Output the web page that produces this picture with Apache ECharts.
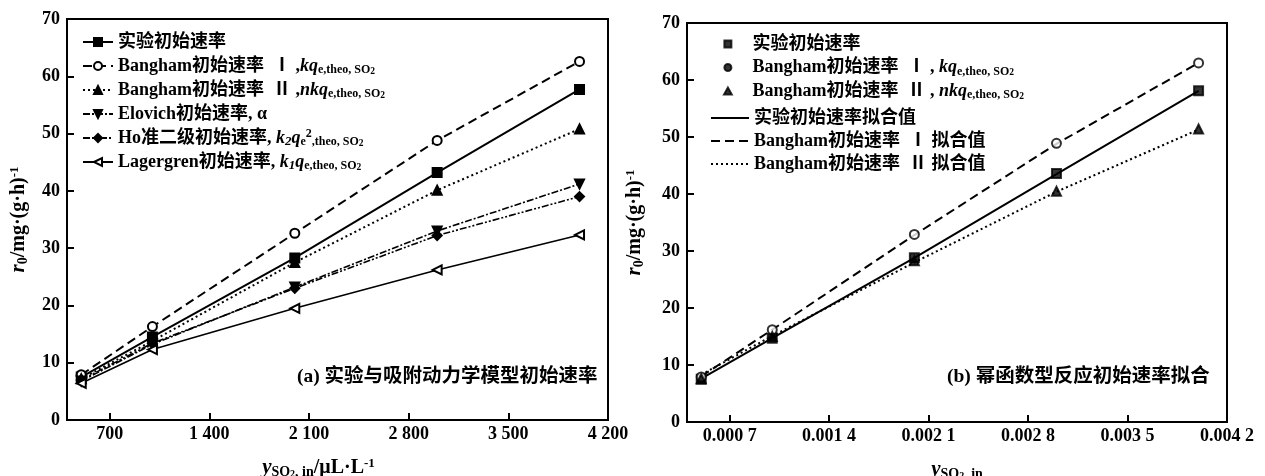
<!DOCTYPE html>
<html><head><meta charset="utf-8">
<script src="https://cdn.jsdelivr.net/npm/echarts@6/dist/echarts.min.js"></script>
<style>html,body{margin:0;padding:0;background:#fff}#c{width:1265px;height:476px}</style>
</head><body><div id="c"></div>
<script>
// ---------- data (a) ----------
const xA = [500, 1000, 2000, 3000, 4000];
const expA = [7.5, 14.5, 28.3, 43.2, 57.7];
const bangIA = [7.9, 16.3, 32.6, 48.8, 62.6];
const bangIIA = [7.2, 13.8, 27.5, 40.1, 50.8];
const elovA = [6.8, 13.2, 23.2, 33.0, 41.2];
const hoA = [7.0, 13.4, 23.0, 32.2, 39.0];
const lagA = [6.4, 12.3, 19.5, 26.2, 32.3];
const xTickValsA = [700, 1400, 2100, 2800, 3500, 4200];
const xTickLabelsA = ['700', '1 400', '2 100', '2 800', '3 500', '4 200'];
// ---------- data (b) ----------
const xB = [0.0005, 0.001, 0.002, 0.003, 0.004];
const expB = [7.5, 14.7, 28.8, 43.6, 58.1];
const bangIB = [7.9, 16.2, 32.9, 48.9, 63.0];
const bangIIB = [7.6, 15.0, 28.3, 40.5, 51.4];
const expFitB = [7.6, 14.7, 28.8, 43.5, 58.1];
const bangIFitB = [8.0, 16.2, 32.8, 48.8, 63.0];
const bangIIFitB = [8.3, 15.1, 28.0, 40.4, 51.3];
const xTickValsB = [0.0007, 0.0014, 0.0021, 0.0028, 0.0035, 0.0042];
const xTickLabelsB = ['0.000 7', '0.001 4', '0.002 1', '0.002 8', '0.003 5', '0.004 2'];

const namesA = ['实验初始速率', 'Bangham初始速率 Ⅰ ,kq', 'Bangham初始速率 Ⅱ ,nkq', 'Elovich初始速率, α', 'Ho准二级初始速率', 'Lagergren初始速率'];
const namesB = ['实验初始速率 ', 'Bangham初始速率 Ⅰ , kq', 'Bangham初始速率 Ⅱ , nkq', '实验初始速率拟合值', 'Bangham初始速率 Ⅰ 拟合值', 'Bangham初始速率 Ⅱ 拟合值'];

const F = "'Liberation Serif','Noto Sans CJK SC',serif";
const FS = 18;
const rich = {
  n: {fontSize: FS, fontWeight: 'bold', fontFamily: F, lineHeight: 20, color: '#000'},
  i: {fontSize: FS, fontWeight: 'bold', fontStyle: 'italic', fontFamily: F, lineHeight: 20, color: '#000'},
  sub: {fontSize: 12, fontWeight: 'bold', fontFamily: F, verticalAlign: 'bottom', lineHeight: 12, color: '#000'},
  isub: {fontSize: 13, fontWeight: 'bold', fontStyle: 'italic', fontFamily: F, verticalAlign: 'bottom', lineHeight: 15, color: '#000'},
  sub2: {fontSize: 9.5, fontWeight: 'bold', fontFamily: F, verticalAlign: 'bottom', lineHeight: 9, color: '#000'},
  sup: {fontSize: 12, fontWeight: 'bold', fontFamily: F, verticalAlign: 'top', lineHeight: 12, color: '#000'},
  an: {fontSize: 20, fontWeight: 'bold', fontFamily: F, lineHeight: 22, color: '#000'},
  ai: {fontSize: 21, fontWeight: 'bold', fontStyle: 'italic', fontFamily: F, lineHeight: 22, color: '#000'},
  asub: {fontSize: 14, fontWeight: 'bold', fontFamily: F, verticalAlign: 'bottom', lineHeight: 13, color: '#000'},
  asub2: {fontSize: 10, fontWeight: 'bold', fontFamily: F, verticalAlign: 'bottom', lineHeight: 9, color: '#000'},
  asup: {fontSize: 13, fontWeight: 'bold', fontFamily: F, verticalAlign: 'top', lineHeight: 13, color: '#000'}
};
const labelMap = {};
labelMap[namesA[0]] = '{n|实验初始速率}';
labelMap[namesA[1]] = '{n|Bangham初始速率  Ⅰ ,}{i|kq}{sub|e,theo, SO}{sub2|2}';
labelMap[namesA[2]] = '{n|Bangham初始速率  Ⅱ ,}{i|nkq}{sub|e,theo, SO}{sub2|2}';
labelMap[namesA[3]] = '{n|Elovich初始速率, α}';
labelMap[namesA[4]] = '{n|Ho准二级初始速率, }{i|k}{isub|2}{i|q}{sub|e}{sup|2}{sub|,theo, SO}{sub2|2}';
labelMap[namesA[5]] = '{n|Lagergren初始速率, }{i|k}{isub|1}{i|q}{sub|e,theo, SO}{sub2|2}';
labelMap[namesB[0]] = '{n|实验初始速率}';
labelMap[namesB[1]] = '{n|Bangham初始速率  Ⅰ , }{i|kq}{sub|e,theo, SO}{sub2|2}';
labelMap[namesB[2]] = '{n|Bangham初始速率  Ⅱ , }{i|nkq}{sub|e,theo, SO}{sub2|2}';
labelMap[namesB[3]] = '{n|实验初始速率拟合值}';
labelMap[namesB[4]] = '{n|Bangham初始速率  Ⅰ 拟合值}';
labelMap[namesB[5]] = '{n|Bangham初始速率  Ⅱ 拟合值}';

function pairs(xs, ys) { return xs.map((x, k) => [x, ys[k]]); }
function tickFmt(vals, labels) {
  return function (v) {
    let best = 0;
    for (let k = 1; k < vals.length; k++) if (Math.abs(vals[k] - v) < Math.abs(vals[best] - v)) best = k;
    return labels[best];
  };
}
const black = '#000';
const axisLabelStyle = {color: black, fontSize: 18, fontWeight: 'bold', fontFamily: F};

function yAxisDef(gi, gap) {
  return {
    type: 'value', gridIndex: gi, min: 0, max: 70, interval: 10,
    axisLine: {show: true, lineStyle: {color: black, width: 2}},
    axisTick: {show: true, inside: true, length: 7, lineStyle: {color: black, width: 2}},
    axisLabel: Object.assign({margin: 7}, axisLabelStyle),
    splitLine: {show: false},
    name: '{ai|r}{asub|0}{an|/mg·(g·h)}{asup|-1}', nameLocation: 'middle', nameGap: gap, nameRotate: 90,
    nameTextStyle: {rich: rich}
  };
}
function xAxisDef(gi, min, max, vals, labels, nameStr, pad) {
  return {
    type: 'value', gridIndex: gi, min: min, max: max,
    axisLine: {show: true, lineStyle: {color: black, width: 2}},
    axisTick: {show: true, inside: true, length: 7, customValues: vals, lineStyle: {color: black, width: 2}},
    axisLabel: Object.assign({margin: 5, customValues: vals, formatter: tickFmt(vals, labels)}, axisLabelStyle),
    splitLine: {show: false},
    name: nameStr, nameLocation: 'middle', nameGap: 37,
    nameTextStyle: {rich: rich, padding: pad}
  };
}

function lineSeries(name, xs, ys, gi, symbol, rot, dash, width) {
  return {
    name: name, type: 'line', xAxisIndex: gi, yAxisIndex: gi, data: pairs(xs, ys),
    symbol: symbol, symbolSize: 9, symbolRotate: rot, showSymbol: symbol !== 'none',
    lineStyle: {color: black, width: width, type: dash},
    itemStyle: {color: black, borderColor: black, borderWidth: 2},
    emphasis: {disabled: true}, z: 3
  };
}
function scatterSeries(name, xs, ys, symbol) {
  return {
    name: name, type: 'scatter', xAxisIndex: 1, yAxisIndex: 1, data: pairs(xs, ys),
    symbol: symbol, symbolSize: 9,
    itemStyle: {color: black, borderColor: black, borderWidth: 2},
    emphasis: {disabled: true}, z: 4
  };
}

const sqIcon = 'path://M0,0L10,0L10,10L0,10Z';
const triIcon = 'path://M5,0L10,9L0,9Z';

const chart = echarts.init(document.getElementById('c'), null, {renderer: 'canvas'});
chart.setOption({
  animation: false,
  backgroundColor: '#fff',
  grid: [
    {left: 67, top: 19, width: 541, height: 401, show: true, borderColor: black, borderWidth: 2, backgroundColor: 'transparent', containLabel: false, outerBoundsMode: 'none'},
    {left: 687, top: 23, width: 540, height: 399, show: true, borderColor: black, borderWidth: 2, backgroundColor: 'transparent', containLabel: false, outerBoundsMode: 'none'}
  ],
  xAxis: [
    xAxisDef(0, 400, 4200, xTickValsA, xTickLabelsA, '{ai|y}{asub|SO}{asub2|2}{asub|, in}{an|/μL·L}{asup|-1}', [0, 38, 0, 0]),
    xAxisDef(1, 0.0004, 0.0042, xTickValsB, xTickLabelsB, '{ai|y}{asub|SO}{asub2|2}{asub|, in}', [0, 0, 0, 0])
  ],
  yAxis: [yAxisDef(0, 37), yAxisDef(1, 41)],
  legend: [
    {
      data: namesA, left: 82, top: 32, padding: 0, orient: 'vertical', itemWidth: 30, itemHeight: 10, itemGap: 4,
      formatter: n => labelMap[n], textStyle: {rich: rich, lineHeight: 19},
      selectedMode: false
    },
    {
      data: [{name: namesB[0], icon: sqIcon}, {name: namesB[1], icon: 'circle'}, {name: namesB[2], icon: triIcon}],
      left: 723, top: 34, padding: 0, orient: 'vertical', itemWidth: 39, itemHeight: 7, itemGap: 3.5,
      symbolKeepAspect: true,
      formatter: n => labelMap[n], textStyle: {rich: rich, lineHeight: 19},
      selectedMode: false
    },
    {
      data: [
        {name: namesB[3], itemStyle: {opacity: 0}},
        {name: namesB[4], itemStyle: {opacity: 0}},
        {name: namesB[5], itemStyle: {opacity: 0}}
      ],
      left: 710, top: 108, padding: 0, orient: 'vertical', itemWidth: 38, itemHeight: 10, itemGap: 3,
      formatter: n => labelMap[n], textStyle: {rich: rich, lineHeight: 19},
      selectedMode: false
    }
  ],
  graphic: [
    {type: 'text', left: 297, top: 367, style: {text: '(a) 实验与吸附动力学模型初始速率', font: 'bold 19.5px ' + F, fill: black}},
    {type: 'text', left: 947, top: 367, style: {text: '(b) 幂函数型反应初始速率拟合', font: 'bold 19.5px ' + F, fill: black}}
  ],
  series: [
    lineSeries(namesA[0], xA, expA, 0, 'rect', 0, 'solid', 2),
    lineSeries(namesA[1], xA, bangIA, 0, 'emptyCircle', 0, [9, 5], 2),
    lineSeries(namesA[2], xA, bangIIA, 0, 'triangle', 0, [2, 3], 2),
    lineSeries(namesA[3], xA, elovA, 0, 'triangle', 180, [7, 2, 2, 2], 1.6),
    lineSeries(namesA[4], xA, hoA, 0, 'diamond', 0, [7, 2, 2, 2, 2, 2], 1.6),
    lineSeries(namesA[5], xA, lagA, 0, 'emptyTriangle', 90, 'solid', 1.6),
    scatterSeries(namesB[0], xB, expB, 'rect'),
    scatterSeries(namesB[1], xB, bangIB, 'emptyCircle'),
    scatterSeries(namesB[2], xB, bangIIB, 'triangle'),
    lineSeries(namesB[3], xB, expFitB, 1, 'none', 0, 'solid', 2),
    lineSeries(namesB[4], xB, bangIFitB, 1, 'none', 0, [9, 5], 2),
    lineSeries(namesB[5], xB, bangIIFitB, 1, 'none', 0, [2, 3], 2)
  ]
});
</script>
</body></html>
